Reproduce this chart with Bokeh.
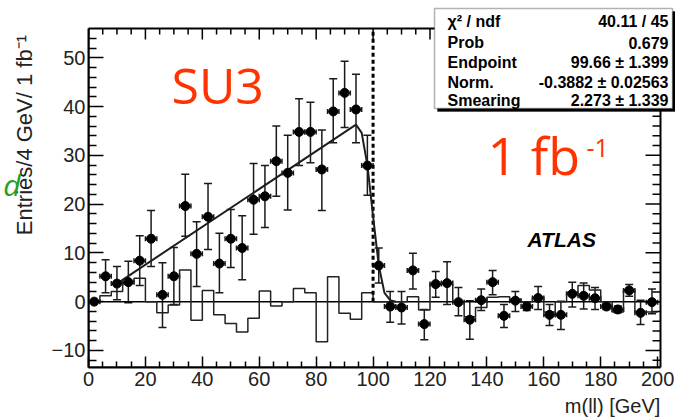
import math
from bokeh.plotting import figure
from bokeh.models import (ColumnDataSource, Whisker, TeeHead, Label, BoxAnnotation,
                          LinearAxis, FixedTicker, Range1d)
from bokeh.embed import file_html
from bokeh.resources import INLINE

# ---------------- data ----------------
mass = [2, 6, 10, 14, 18, 22, 26, 30, 34, 38, 42, 46, 50, 54, 58, 62, 66, 70, 74, 78,
        82, 86, 90, 94, 98, 102, 106, 110, 114, 118, 122, 126, 130, 134, 138, 142, 146,
        150, 154, 158, 162, 166, 170, 174, 178, 182, 186, 190, 194, 198]
entries = [0.0, 5.2, 3.7, 4.0, 8.4, 12.9, 1.4, 5.2, 19.6, 9.8, 17.4, 7.8, 12.9, 11.0,
           20.9, 21.6, 28.8, 26.4, 34.8, 34.8, 27.1, 39.0, 42.8, 39.4, 27.9, 7.4, -1.0,
           -1.2, 6.4, -4.6, 3.6, 3.8, -0.1, -3.7, 0.3, 4.0, -2.9, 0.2, -1.0, 0.75, -2.7,
           -2.7, 1.6, 1.2, 0.7, -1.0, -1.6, 2.3, -2.3, -0.1]
err_top = [0.0, 8.6, 7.2, 8.3, 13.5, 18.7, 8.0, 11.1, 26.1, 16.4, 24.2, 14.0, 18.9, 17.6,
           28.3, 27.9, 36.0, 34.1, 41.6, 40.9, 35.2, 45.7, 49.3, 46.6, 34.1, 11.0, 2.1,
           2.1, 9.9, -1.6, 6.2, 8.2, 2.9, 0.2, 2.6, 6.4, -0.6, 2.1, -0.2, 3.1, -0.6,
           0.1, 4.0, 3.8, 2.9, -0.4, -0.9, 3.5, 0.3, 2.6]
err_bottom = [0.0, 1.8, 0.4, -0.2, 3.3, 7.2, -5.3, -0.6, 13.4, 3.1, 10.7, 1.8, 7.0, 4.5,
              13.8, 15.2, 21.6, 18.8, 27.9, 28.5, 18.7, 32.6, 35.7, 32.6, 21.8, 3.8, -4.2,
              -4.6, 2.6, -7.8, 0.9, -0.6, -2.9, -7.7, -1.8, 1.4, -5.3, -2.0, -1.8, -1.6, -4.9,
              -5.7, -1.1, -1.5, -1.6, -1.6, -2.3, 1.1, -4.7, -2.5]
half_bin = 2

# histogram (step line around zero), one value per 4 GeV bin
hist_vals = [0.0, 1.2, 2.1, 3.8, 4.8, 0.0, -2.3, -0.7, 6.5, -3.8, 2.3, -2.7, -4.5, -6.2,
             -3.4, 2.2, -0.9, 0.0, 2.7, 1.8, -8.2, 5.1, -2.4, -3.6, 1.8, 0.0, 0.0, 0.0,
             1.0, -1.7, 3.6, 3.6, 0.0, -3.1, -1.2, 0.9, 1.0, 0.5, 0.0, 0.9, -2.1, 0.0,
             1.9, 3.3, 2.4, 0.0, -2.1, 2.4, -2.1, -2.1]

# fitted curve, points
fit_m = [10, 94, 96, 98, 100, 102, 104, 106, 108]
fit_v = [3.7, 36.3, 34.6, 28.0, 17.5, 7.4, 1.8, 0.3, 0.0]

endpoint_line = 100

x_major = [0, 20, 40, 60, 80, 100, 120, 140, 160, 180, 200]
y_major = [-10, 0, 10, 20, 30, 40, 50]

stat_names = ["\u03c7\u00b2 / ndf", "Prob", "Endpoint", "Norm.", "Smearing"]
stat_values = ["40.11 / 45", "0.679", "99.66 \u00b1 1.399", "-0.3882 \u00b1 0.02563",
               "2.273 \u00b1 1.339"]

# axis box of the histogram (data units)
x_lo, x_hi = 0, 201
y_lo, y_hi = -13.5, 56

FONT = "Liberation Sans"
NB = "\u00a0"

# ---------------- geometry ----------------
BOX_W, BOX_H = 572, 339          # drawn axis box (px)
FRAME_W, FRAME_H = 587, 367      # frame reaches right and top canvas edges
x_frame_hi = x_lo + (x_hi - x_lo) * FRAME_W / BOX_W
y_frame_hi = y_lo + (y_hi - y_lo) * FRAME_H / BOX_H

x_minor = [v for v in range(0, 201, 5) if v % 20 != 0]
y_minor = [v for v in range(-12, 55, 2) if v % 10 != 0]

p = figure(frame_width=FRAME_W, frame_height=FRAME_H,
           x_range=Range1d(x_lo, x_frame_hi), y_range=Range1d(y_lo, y_frame_hi),
           output_backend="svg", toolbar_location=None,
           min_border_left=88, min_border_right=0, min_border_top=0, min_border_bottom=53)
p.grid.visible = False
p.background_fill_color = "white"
p.border_fill_color = "white"
p.outline_line_color = None

def style_axis(ax, major_in, minor_in):
    ax.axis_line_color = "black"
    ax.axis_line_width = 2
    ax.major_tick_in = major_in
    ax.major_tick_out = 0
    ax.minor_tick_in = minor_in
    ax.minor_tick_out = 0
    ax.major_tick_line_color = "black"
    ax.minor_tick_line_color = "black"
    ax.major_tick_line_width = 1.5
    ax.minor_tick_line_width = 1.5
    ax.major_label_text_font = FONT
    ax.major_label_text_font_size = "20px"
    ax.major_label_text_color = "#222222"
    ax.axis_label_text_font = FONT
    ax.axis_label_text_font_style = "normal"
    ax.axis_label_text_color = "#222222"

xax = p.xaxis[0]
yax = p.yaxis[0]
xax.ticker = FixedTicker(ticks=x_major, minor_ticks=x_minor)
yax.ticker = FixedTicker(ticks=y_major, minor_ticks=y_minor)
style_axis(xax, 11, 6)
style_axis(yax, 15, 8)
xax.bounds = (x_lo, x_hi)
yax.bounds = (y_lo, y_hi)
xax.major_label_standoff = 4
yax.major_label_standoff = 3
xax.axis_label_text_font_size = "20px"
yax.axis_label_text_font_size = "22px"
xax.axis_label_standoff = 6
yax.axis_label_standoff = 12
# titles are centred on the frame; non-breaking spaces move them to where the reference has them
xax.axis_label = NB * 83 + "m(ll) [GeV]"
yax.axis_label = NB * 16 + "Entries/4 GeV/ 1 fb\u207b\u00b9"

# extra far-left axis carrying the green handwritten "d"
try:
    dax = LinearAxis(ticker=FixedTicker(ticks=[]), axis_line_color=None,
                     major_tick_line_color=None, minor_tick_line_color=None,
                     major_label_standoff=0,
                     axis_label="d", axis_label_orientation="horizontal",
                     axis_label_text_color="#22a022", axis_label_text_font="Open Sans",
                     axis_label_text_font_style="italic", axis_label_text_font_size="30px",
                     axis_label_standoff=-12)
    p.add_layout(dax, "left")
except Exception:
    pass

# top and right edges of the axis box, with inward ticks
p.quad(left=[x_lo], right=[x_hi], bottom=[y_lo], top=[y_hi], fill_color=None,
       line_color="black", line_width=2)
p.ray(x=x_major, y=[y_hi] * len(x_major), length=11, length_units="screen",
      angle=-math.pi / 2, line_color="black", line_width=1.5)
p.ray(x=x_minor, y=[y_hi] * len(x_minor), length=6, length_units="screen",
      angle=-math.pi / 2, line_color="black", line_width=1.5)
p.ray(x=[x_hi] * len(y_major), y=y_major, length=15, length_units="screen",
      angle=math.pi, line_color="black", line_width=1.5)
p.ray(x=[x_hi] * len(y_minor), y=y_minor, length=8, length_units="screen",
      angle=math.pi, line_color="black", line_width=1.5)

# zero line across the axis box
p.segment(x0=[x_lo], y0=[0], x1=[x_hi], y1=[0], line_color="black", line_width=1.5)

# histogram step
step_x = [m - half_bin for m in mass] + [mass[-1] + half_bin]
step_y = hist_vals + [hist_vals[-1]]
p.step(step_x, step_y, mode="after", line_color="#222222", line_width=1.5)

# endpoint dashed line
p.segment(x0=[endpoint_line], y0=[0], x1=[endpoint_line], y1=[y_hi],
          line_color="black", line_width=3, line_dash="4 3")

# fit curve
p.line(fit_m, fit_v, line_color="#1e1e1e", line_width=2)

# data points with error bars
src = ColumnDataSource(dict(x=mass, y=entries, top=err_top, bottom=err_bottom,
                            xl=[m - half_bin for m in mass], xr=[m + half_bin for m in mass]))
p.add_layout(Whisker(source=src, base="x", upper="top", lower="bottom", dimension="height",
                     line_color="#1a1a1a", line_width=1.5,
                     upper_head=TeeHead(size=8, line_color="#1a1a1a", line_width=1.5),
                     lower_head=TeeHead(size=8, line_color="#1a1a1a", line_width=1.5)))
p.add_layout(Whisker(source=src, base="y", upper="xr", lower="xl", dimension="width",
                     line_color="#1a1a1a", line_width=1.5,
                     upper_head=TeeHead(size=5, line_color="#1a1a1a", line_width=1.5),
                     lower_head=TeeHead(size=5, line_color="#1a1a1a", line_width=1.5)))
p.scatter("x", "y", source=src, size=9, color="black")

# ---------------- texts (screen units relative to the frame's bottom-left) ----------------
def lab(x, y, text, **kw):
    p.add_layout(Label(x=x, y=y, x_units="screen", y_units="screen", text=text, **kw))

lab(83, 283, "SU3", text_font="Open Sans", text_font_size="50px", text_color="#ff3300",
    text_baseline="alphabetic")
lab(399, 213, "1 fb", text_font="Open Sans", text_font_size="52px", text_color="#ff3300",
    text_baseline="alphabetic")
lab(498, 220, "-1", text_font="Open Sans", text_font_size="25px", text_color="#ff3300",
    text_baseline="alphabetic")
lab(439, 128, "ATLAS", text_font=FONT, text_font_size="21px", text_font_style="bold italic",
    text_color="black", text_baseline="alphabetic")

# stats box
p.add_layout(BoxAnnotation(left=349, right=587, top=356, bottom=256,
                           left_units="screen", right_units="screen",
                           top_units="screen", bottom_units="screen",
                           fill_color="black", fill_alpha=1, line_color="black"))
p.add_layout(BoxAnnotation(left=346, right=584, top=359, bottom=259,
                           left_units="screen", right_units="screen",
                           top_units="screen", bottom_units="screen",
                           fill_color="white", fill_alpha=1, line_color="black", line_width=1.5))
rows_y = [346, 325, 305, 285, 267]
for name, val, yy in zip(stat_names, stat_values, rows_y):
    lab(359, yy, name, text_font=FONT, text_font_size="16px", text_font_style="bold",
        text_baseline="middle", text_color="black")
    lab(580, yy, val, text_font=FONT, text_font_size="16px", text_font_style="bold",
        text_baseline="middle", text_align="right", text_color="black")

open("out.html", "w").write(file_html(p, INLINE))
